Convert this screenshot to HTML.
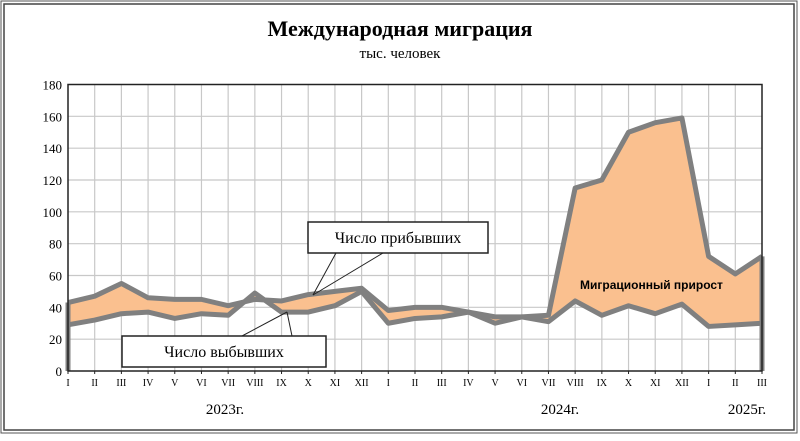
<!DOCTYPE html>
<html><head><meta charset="utf-8"><style>
body{margin:0;background:#fff;}
</style></head><body>
<svg width="800" height="436" xmlns="http://www.w3.org/2000/svg" font-family="Liberation Serif, serif">
<rect x="1" y="1" width="796" height="432" fill="#fff" stroke="#555" stroke-width="1"/>
<rect x="4" y="4" width="790" height="426" fill="#fff" stroke="#444" stroke-width="1.5"/>
<text x="400" y="36" text-anchor="middle" font-size="22" font-weight="bold">Международная миграция</text>
<text x="400" y="58" text-anchor="middle" font-size="15">тыс. человек</text>
<g id="grid" stroke="#c8c8c8" stroke-width="1.2"></g>
<g id="plot"></g>
<rect x="68" y="84.5" width="694" height="286.5" fill="none" stroke="#222" stroke-width="1.5"/>
<g font-size="13" text-anchor="end" id="yl"></g>
<g font-size="10" text-anchor="middle" id="xl"></g>
<text x="225" y="414" font-size="15" text-anchor="middle">2023г.</text>
<text x="560" y="414" font-size="15" text-anchor="middle">2024г.</text>
<text x="747" y="414" font-size="15" text-anchor="middle">2025г.</text>
<text x="580" y="289" font-family="Liberation Sans, sans-serif" font-size="12" font-weight="bold">Миграционный прирост</text>
<rect x="308" y="222" width="180" height="31" fill="#fff" stroke="#222" stroke-width="1.5"/>
<text x="398" y="243" font-size="16" text-anchor="middle">Число прибывших</text>
<line x1="336" y1="253" x2="313" y2="295" stroke="#222" stroke-width="1"/>
<line x1="383" y1="253" x2="313" y2="295" stroke="#222" stroke-width="1"/>
<rect x="122" y="336" width="204" height="31" fill="#fff" stroke="#222" stroke-width="1.5"/>
<text x="224" y="357" font-size="16" text-anchor="middle">Число выбывших</text>
<line x1="242" y1="336" x2="287" y2="312" stroke="#222" stroke-width="1"/>
<line x1="292" y1="336" x2="287" y2="312" stroke="#222" stroke-width="1"/>
</svg>
<script>
const ns="http://www.w3.org/2000/svg";
const X=i=>68+i*694/26, Y=v=>371-v*286.5/180;
const g=document.getElementById('grid'),p=document.getElementById('plot'),yl=document.getElementById('yl'),xl=document.getElementById('xl');
function el(t,a,par){const e=document.createElementNS(ns,t);for(const k in a)e.setAttribute(k,a[k]);par.appendChild(e);return e;}
for(let i=1;i<26;i++)el('line',{x1:X(i),x2:X(i),y1:84.5,y2:371},g);
for(let v=20;v<180;v+=20)el('line',{x1:68,x2:762,y1:Y(v),y2:Y(v)},g);
for(let v=0;v<=180;v+=20){const t=el('text',{x:62,y:Y(v)+5},yl);t.textContent=v;}
const m=['I','II','III','IV','V','VI','VII','VIII','IX','X','XI','XII'];
const labs=[...m,...m,'I','II','III'];
labs.forEach((l,i)=>{const t=el('text',{x:X(i),y:386},xl);t.textContent=l;el('line',{x1:X(i),x2:X(i),y1:371,y2:374,stroke:'#222'},xl);});
const a=[43,47,55,46,45,45,41,45,44,48,50,52,38,40,40,37,34,34,35,115,120,150,156,159,72,61,72];
const d=[29,32,36,37,33,36,35,49,37,37,41,50,30,33,34,37,30,34,31,44,35,41,36,42,28,29,30];
let pa=a.map((v,i)=>X(i)+','+Y(v)).join(' '),pd=d.map((v,i)=>X(i)+','+Y(v));
el('polygon',{points:pa+' '+pd.slice().reverse().join(' '),fill:'#fac08f'},p);
el('polyline',{points:pd.join(' '),fill:'none',stroke:'#808080','stroke-width':5,'stroke-linejoin':'round'},p);
el('polyline',{points:pa,fill:'none',stroke:'#808080','stroke-width':5,'stroke-linejoin':'round'},p);
el('line',{x1:X(0),x2:X(0),y1:371,y2:Y(a[0]),stroke:'#808080','stroke-width':5},p);
el('line',{x1:X(26),x2:X(26),y1:371,y2:Y(a[26]),stroke:'#808080','stroke-width':5},p);
</script>
</body></html>
